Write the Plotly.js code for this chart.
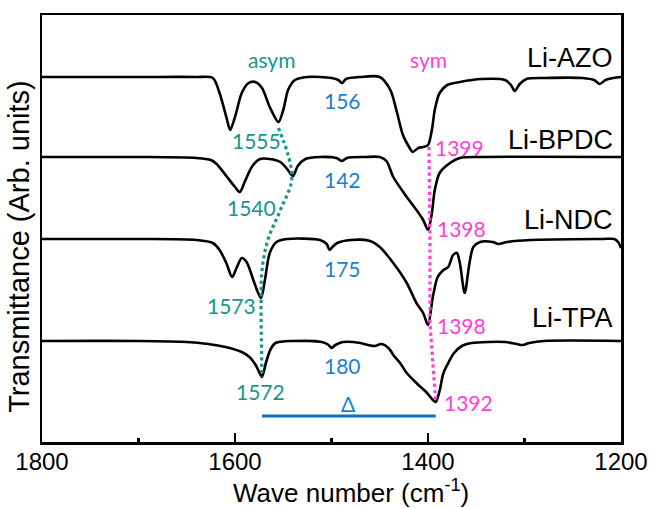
<!DOCTYPE html>
<html>
<head>
<meta charset="utf-8">
<script src="https://cdn.plot.ly/plotly-3.0.1.min.js"></script>
<style>html,body{margin:0;padding:0;background:#fff;}#chart{width:654px;height:508px;}</style>
</head>
<body>
<div id="chart"></div>
<script>
// Spectra: relative transmittance (arb. units), baseline 0, dips negative
const azoWn = [1800,1700,1640,1623,1616,1609,1605,1600,1593,1586,1579,1572,1564,1555,1550,1545,1538,1525,1500,1493,1489,1485,1470,1450,1439,1432,1426,1419,1416,1410,1405,1400,1396,1393,1388,1380,1367,1345,1320,1314,1310,1305,1298,1280,1240,1228,1222,1216,1208,1200];
const azoT  = [0,0,0,-1,-16,-40,-53,-40,-16,-6,-5,-11,-30,-45,-33,-13,-3,0,-1,-3,-6,-2,0,0,-13,-36,-58,-71,-75,-71,-70,-68,-53,-33,-16,-8,-5,-2,-3,-8,-14,-7,-2,-1,-1,-3,-7,-3,-1,0];

const bpdcWn = [1800,1700,1640,1625,1619,1609,1600,1595,1590,1582,1574,1564,1553,1546,1540,1535,1527,1512,1495,1489,1484,1465,1450,1443,1436,1422,1412,1405,1400,1396,1393,1388,1380,1367,1340,1200];
const bpdcT  = [0,0,-1,-3,-7,-19,-30,-35,-25,-9,-2,-2,-5,-12,-19,-9,-2,0,-1,-4,-1,0,0,-4,-20,-40,-53,-63,-73,-56,-33,-16,-8,-1,0,0];

const ndcWn = [1800,1700,1640,1623,1616,1609,1603,1598,1593,1588,1581,1576,1573,1569,1564,1557,1546,1512,1505,1502,1499,1494,1480,1460,1450,1436,1422,1412,1405,1400,1395,1390,1384,1379,1374,1370,1367,1362,1357,1353,1346,1333,1327,1318,1294,1220,1207,1203,1200];
const ndcT  = [0,0,-1,-4,-11,-24,-38,-28,-19,-23,-41,-54,-59,-41,-14,-3,0,-1,-5,-11,-8,-4,-1,-2,-8,-24,-44,-64,-74,-86,-58,-38,-31,-28,-16,-14,-24,-54,-24,-8,-3,-3,-5,-3,-1,0,0,-3,-9];

const tpaWn = [1800,1700,1650,1628,1610,1593,1585,1578,1574,1572,1568,1563,1558,1540,1510,1503,1500,1496,1488,1470,1462,1455,1448,1440,1436,1429,1422,1412,1401,1395,1392,1388,1384,1378,1373,1365,1355,1320,1308,1302,1295,1280,1200];
const tpaT  = [0,0,-1,-3,-6,-11,-16,-25,-33,-36,-22,-8,-2,0,-1,-4,-7,-4,-1,-2,-4,-5,-3,-8,-14,-22,-32,-42,-52,-59,-61,-50,-32,-20,-12,-5,-2,-1,-3,-4,-2,0,0];

const seriesNames = ['Li-AZO','Li-BPDC','Li-NDC','Li-TPA'];
const offsets = [365, 285, 203, 101];

// Peak positions (cm-1) and the plotted levels of the guide lines
const asymWn  = [1555, 1541, 1553, 1566, 1572, 1573, 1572];
const asymY   = [314, 265, 232, 202, 172, 144, 65];
const symWn   = [1399, 1398, 1398, 1392];
const symY    = [295, 212, 119, 40];
const asymLabels = ['1555','1540','1573','1572'];
const symLabels  = ['1399','1398','1398','1392'];
const deltaLabels = ['156','142','175','180'];
const deltaWn = [1572, 1392];
const xTicks = [1800, 1600, 1400, 1200];

const wnAll = [azoWn, bpdcWn, ndcWn, tpaWn];
const tAll  = [azoT, bpdcT, ndcT, tpaT];

const teal = '#14968c', pink = '#ff3fd8', blue = '#1b7fd0';
const labelFont = 'Lato, "Open Sans", sans-serif';
const axisFont = '"Liberation Sans", Arial, sans-serif';

const traces = [];
for (let i = 0; i < 4; i++) {
  traces.push({
    x: wnAll[i], y: tAll[i].map(v => v + offsets[i]),
    type: 'scatter', mode: 'lines', name: seriesNames[i],
    line: {color: '#000', width: 2.6, shape: 'spline', smoothing: 0.8},
    hoverinfo: 'skip'
  });
}
traces.push({x: asymWn, y: asymY, type: 'scatter', mode: 'lines',
  line: {color: teal, width: 3.2, dash: 'dot', shape: 'spline', smoothing: 1}});
traces.push({x: symWn, y: symY, type: 'scatter', mode: 'lines',
  line: {color: pink, width: 3.2, dash: 'dot'}});
traces.push({x: deltaWn, y: [26, 26], type: 'scatter', mode: 'lines',
  line: {color: '#0a72c8', width: 3}});

const ann = [];
function addText(x, y, text, color, size, anchor, family) {
  ann.push({x: x, y: y, xref: 'x', yref: 'y', text: text, showarrow: false,
    font: {color: color, size: size, family: family || labelFont},
    xanchor: anchor || 'center', yanchor: 'middle'});
}
addText(1562, 383, 'asym', teal, 21);
addText(1400, 383, 'sym', pink, 21);
const asymLabWn = [1578, 1583, 1604, 1574];
const asymLabY = [302, 235, 137, 51];
const symLabWn = [1395, 1393, 1393, 1386];
const symLabY = [295, 214, 117, 40];
const deltaLabY = [342, 263, 174, 77];
for (let i = 0; i < 4; i++) {
  addText(asymLabWn[i], asymLabY[i], asymLabels[i], teal, 21);
  addText(symLabWn[i], symLabY[i], symLabels[i], pink, 21, 'left');
  addText(1489, deltaLabY[i], deltaLabels[i], blue, 21);
}
addText(1483, 39, 'Δ', blue, 21);
const nameY = [384, 302, 222, 124];
for (let i = 0; i < 4; i++) addText(1206, nameY[i], seriesNames[i], '#000', 27, 'right', axisFont);

// axis titles (placed as paper annotations to match the reference offsets)
ann.push({xref: 'paper', yref: 'paper', x: 0.533, y: -0.117, xanchor: 'center', yanchor: 'middle',
  text: 'Wave number (cm<sup>-1</sup>)', showarrow: false,
  font: {family: axisFont, size: 26, color: '#000'}});
ann.push({xref: 'paper', yref: 'paper', x: -0.04, y: 0.459, xanchor: 'center', yanchor: 'middle',
  textangle: -90, text: 'Transmittance (Arb. units)', showarrow: false,
  font: {family: axisFont, size: 29, color: '#000'}});

const layout = {
  width: 654, height: 508,
  margin: {l: 42, r: 33, t: 15, b: 66},
  paper_bgcolor: '#fff', plot_bgcolor: '#fff',
  showlegend: false,
  xaxis: {
    range: [1800, 1200], autorange: false,
    tickvals: xTicks, ticktext: xTicks.map(String),
    ticks: 'inside', ticklen: 9, tickwidth: 2.5, tickcolor: '#000',
    minor: {dtick: 100, tick0: 1200, ticks: 'inside', ticklen: 4, tickwidth: 2.5, tickcolor: '#000'},
    showline: true, linecolor: '#000', linewidth: 2.5, mirror: true,
    showgrid: false, zeroline: false,
    tickfont: {family: axisFont, size: 24, color: '#000'},
    ticklabelstandoff: -3
  },
  yaxis: {
    range: [0, 427], autorange: false,
    showticklabels: false, ticks: '',
    showline: true, linecolor: '#000', linewidth: 2.5, mirror: true,
    showgrid: false, zeroline: false
  },
  annotations: ann
};
Plotly.newPlot('chart', traces, layout, {displayModeBar: false, staticPlot: true});
</script>
</body>
</html>
